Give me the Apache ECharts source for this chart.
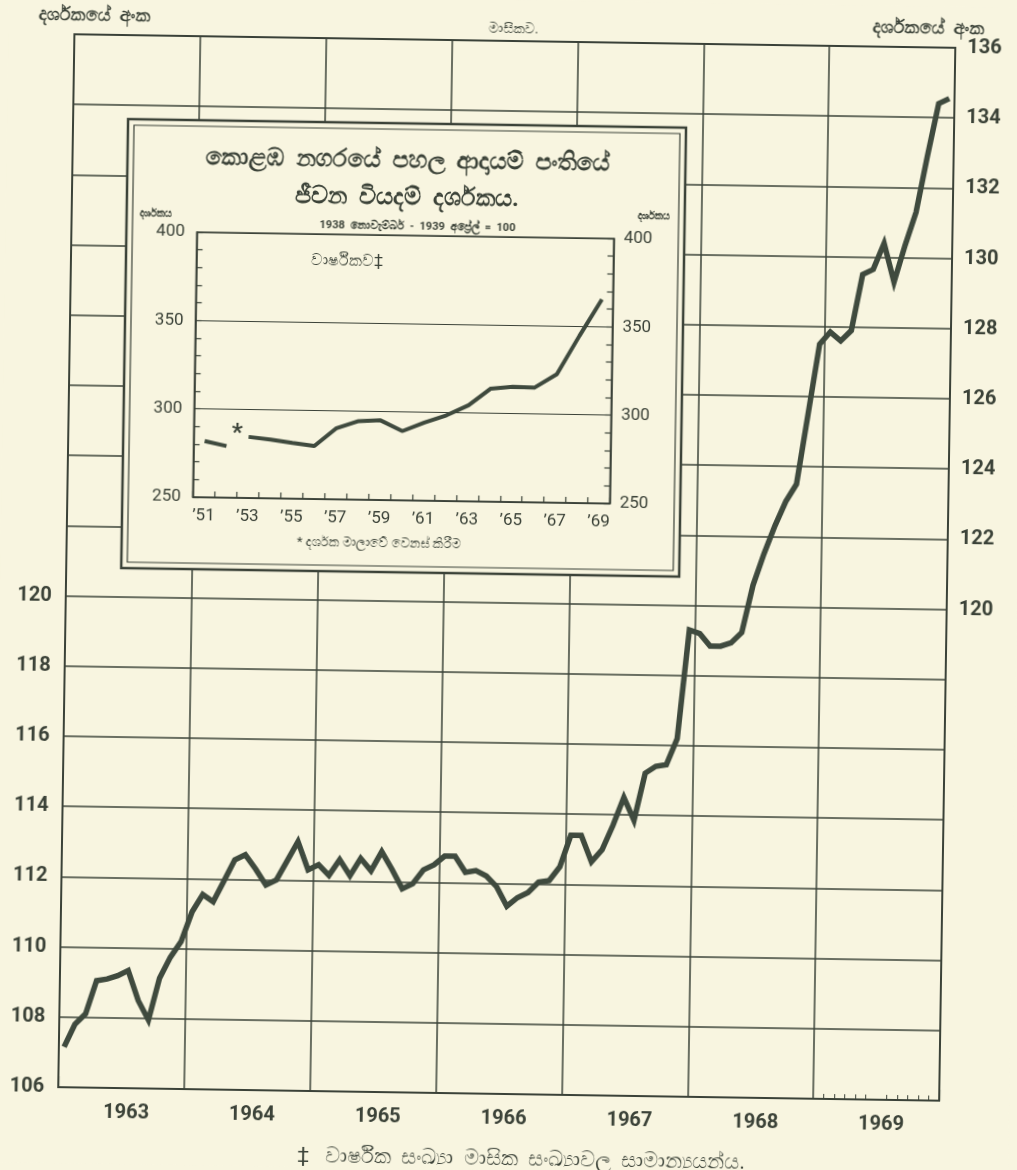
<!DOCTYPE html>
<html>
<head>
<meta charset="utf-8">
<title>කොළඹ නගරයේ ජීවන වියදම් දර්ශකය</title>
<script src="https://cdn.jsdelivr.net/npm/echarts@6.0.0/dist/echarts.min.js"></script>
<style>
  html,body{margin:0;padding:0;background:#f8f5e0;overflow:hidden;}
  /* the scanned page is slightly tilted */
  #cost-chart{width:1017px;height:1170px;transform:rotate(0.88deg);transform-origin:50% 50%;}
</style>
</head>
<body>
<div id="cost-chart"></div>
<script>
  // මාසික දර්ශකය, 1963 - 1969
  var years = ['1963', '1964', '1965', '1966', '1967', '1968', '1969'];
  var monthly1963 = [107.15, 107.8, 108.1, 109.05, 109.1, 109.2, 109.35, 108.5, 107.95, 109.15, 109.75, 110.2];
  var monthly1964 = [111.05, 111.55, 111.35, 111.95, 112.55, 112.7, 112.3, 111.85, 112.0, 112.55, 113.1, 112.3];
  var monthly1965 = [112.45, 112.15, 112.6, 112.15, 112.65, 112.3, 112.85, 112.35, 111.8, 111.95, 112.35, 112.5];
  var monthly1966 = [112.75, 112.75, 112.3, 112.35, 112.2, 111.9, 111.35, 111.6, 111.75, 112.05, 112.1, 112.5];
  var monthly1967 = [113.4, 113.4, 112.65, 113.0, 113.7, 114.5, 113.85, 115.2, 115.4, 115.45, 116.2, 119.3];
  var monthly1968 = [119.2, 118.85, 118.85, 118.95, 119.25, 120.6, 121.5, 122.3, 123.0, 123.5, 125.5, 127.5];
  var monthly1969 = [127.85, 127.6, 127.9, 129.5, 129.65, 130.4, 129.3, 130.35, 131.3, 132.9, 134.4, 134.55];
  var leftTicks = [106, 108, 110, 112, 114, 116, 118, 120];
  var rightTicks = [120, 122, 124, 126, 128, 130, 132, 134, 136];

  // වාර්ෂිකව (ඇතුළත ප්‍රස්තාරය), 1951 - 1969
  var insetYears = [1951, 1952, 1953, 1954, 1955, 1956, 1957, 1958, 1959, 1960,
                    1961, 1962, 1963, 1964, 1965, 1966, 1967, 1968, 1969];
  var annualOldSeries = [281.8, 279.2];   // 1951-52
  var annualNewSeries = [284.6, 283.3, 281.6, 280.0, 290.3, 294.5, 295.1, 289.2, 294.2,
                         298.5, 304.4, 314.0, 315.3, 315.0, 322.7, 344.6, 365.5];   // 1953-69

  var paper = '#f8f5e0';
  var ink = '#3b4238';
  var lineInk = '#3f4a3e';
  var font = 'Roboto, "Noto Sans", "DejaVu Sans", sans-serif';

  var months = [];
  var monthlyValues = [];
  var monthlyByYear = [monthly1963, monthly1964, monthly1965, monthly1966, monthly1967, monthly1968, monthly1969];
  years.forEach(function (y, k) {
    monthlyByYear[k].forEach(function (v, m) {
      months.push(y + '-' + (m + 1));
      monthlyValues.push(v);
    });
  });

  var oldData = insetYears.map(function (y, i) { return i < annualOldSeries.length ? annualOldSeries[i] : null; });
  var newData = insetYears.map(function (y, i) { return i >= 2 ? annualNewSeries[i - 2] : null; });

  var chart = echarts.init(document.getElementById('cost-chart'));

  var option = {
    backgroundColor: paper,
    animation: false,
    textStyle: {fontFamily: font, color: ink},
    grid: [
      {left: 66, right: 70, top: 41, bottom: 76, show: true, borderColor: ink, borderWidth: 2, backgroundColor: 'transparent'},
      {left: 191.5, top: 237, width: 417, height: 265, show: true, borderColor: ink, borderWidth: 1.5, backgroundColor: paper, z: 3}
    ],
    xAxis: [
      {
        gridIndex: 0, type: 'category', data: months, boundaryGap: true, position: 'bottom',
        axisLine: {show: true, lineStyle: {color: ink, width: 2}},
        axisTick: {show: false},
        axisLabel: {
          interval: function (i) { return i % 12 === 6; },
          formatter: function (v) { return v.slice(0, 4); },
          fontSize: 20, fontWeight: 'bold', color: ink, margin: 15
        },
        splitLine: {show: true, interval: function (i) { return i % 12 === 0; }, lineStyle: {color: ink, width: 1.5}}
      },
      {
        // 1969 මාසික සලකුණු
        gridIndex: 0, type: 'category', data: months, boundaryGap: true, position: 'bottom',
        axisLine: {show: false}, axisLabel: {show: false}, splitLine: {show: false},
        axisTick: {show: true, inside: true, length: 5, interval: function (i) { return i > 72 && i < 84 && i !== 78; }, lineStyle: {color: ink, width: 1}}
      },
      {
        gridIndex: 0, type: 'category', data: months, boundaryGap: true, position: 'bottom',
        axisLine: {show: false}, axisLabel: {show: false}, splitLine: {show: false},
        axisTick: {show: true, inside: true, length: 11, interval: function (i) { return i === 78; }, lineStyle: {color: ink, width: 1.2}}
      },
      {
        gridIndex: 1, type: 'category', data: insetYears, boundaryGap: true, position: 'bottom', z: 4,
        axisLine: {show: true, lineStyle: {color: ink, width: 1.5}},
        axisTick: {show: true, inside: true, length: 6, interval: 0, lineStyle: {color: ink, width: 1.2}},
        axisLabel: {
          interval: function (i) { return i % 2 === 0; },
          formatter: function (v) { return '\u2019' + String(v).slice(2); },
          fontSize: 17, color: ink, margin: 10
        },
        splitLine: {show: true, interval: function (i) { return i === 12; }, lineStyle: {color: ink, width: 1.2}}
      }
    ],
    yAxis: [
      {
        gridIndex: 0, type: 'value', min: 106, max: 136, interval: 2, position: 'left',
        axisLine: {show: true, lineStyle: {color: ink, width: 2}},
        axisTick: {show: false},
        axisLabel: {
          formatter: function (v) { return leftTicks.indexOf(v) >= 0 ? String(v) : ''; },
          fontSize: 20, fontWeight: 'bold', color: ink, margin: 14
        },
        splitLine: {show: true, lineStyle: {color: ink, width: 1.5}}
      },
      {
        gridIndex: 0, type: 'value', min: 106, max: 136, interval: 2, position: 'right',
        axisLine: {show: true, lineStyle: {color: ink, width: 2}},
        axisTick: {show: false},
        axisLabel: {
          formatter: function (v) { return rightTicks.indexOf(v) >= 0 ? String(v) : ''; },
          fontSize: 20, fontWeight: 'bold', color: ink, margin: 12
        },
        splitLine: {show: false}
      },
      {
        gridIndex: 1, type: 'value', min: 250, max: 400, interval: 50, position: 'left', z: 4,
        axisLine: {show: true, lineStyle: {color: ink, width: 1.5}},
        axisTick: {show: true, inside: true, length: 6, lineStyle: {color: ink, width: 1.2}},
        minorTick: {show: true, splitNumber: 5, length: 6, lineStyle: {color: ink, width: 1.2}},
        axisLabel: {fontSize: 17, color: ink, margin: 12},
        splitLine: {show: true, lineStyle: {color: ink, width: 1.2}}
      },
      {
        gridIndex: 1, type: 'value', min: 250, max: 400, interval: 50, position: 'right', z: 4,
        axisLine: {show: true, lineStyle: {color: ink, width: 1.5}},
        axisTick: {show: true, inside: true, length: 6, lineStyle: {color: ink, width: 1.2}},
        minorTick: {show: true, splitNumber: 5, length: 6, lineStyle: {color: ink, width: 1.2}},
        axisLabel: {fontSize: 17, color: ink, margin: 10},
        splitLine: {show: false}
      }
    ],
    series: [
      {
        name: 'මාසිකව', type: 'line', xAxisIndex: 0, yAxisIndex: 0, data: monthlyValues,
        symbol: 'none', z: 2, lineStyle: {color: lineInk, width: 5.5, join: 'miter'}
      },
      {
        name: 'වාර්ෂිකව 1951-52', type: 'line', xAxisIndex: 3, yAxisIndex: 2, data: oldData,
        symbol: 'none', z: 6, connectNulls: false, lineStyle: {color: lineInk, width: 4}
      },
      {
        name: 'වාර්ෂිකව 1953-69', type: 'line', xAxisIndex: 3, yAxisIndex: 2, data: newData,
        symbol: 'none', z: 6, connectNulls: false, lineStyle: {color: lineInk, width: 4}
      }
    ],
    graphic: [
      {type: 'rect', z: 1, shape: {x: 121, y: 125, width: 558, height: 449}, style: {fill: paper, stroke: ink, lineWidth: 2.5}},
      {type: 'rect', z: 1, shape: {x: 127, y: 131, width: 546, height: 437}, style: {fill: 'none', stroke: ink, lineWidth: 1.2}},
      {type: 'text', z: 7, x: 86, y: 22, style: {text: 'දර්ශකයේ  අංක', fill: ink, align: 'center', verticalAlign: 'middle', font: 'bold 18px ' + font}},
      {type: 'text', z: 7, x: 505, y: 29, style: {text: 'මාසිකව.', fill: ink, align: 'center', verticalAlign: 'middle', font: '14px ' + font}},
      {type: 'text', z: 7, x: 920, y: 22, style: {text: 'දර්ශකයේ  අංක', fill: ink, align: 'center', verticalAlign: 'middle', font: 'bold 18px ' + font}},
      {type: 'text', z: 7, x: 401, y: 163, style: {text: 'කොළඹ  නගරයේ  පහල  ආදායම්  පංතියේ', fill: ink, align: 'center', verticalAlign: 'middle', font: 'bold 24px ' + font}},
      {type: 'text', z: 7, x: 401, y: 200, style: {text: 'ජීවන  වියදම්  දර්ශකය.', fill: ink, align: 'center', verticalAlign: 'middle', font: 'bold 24px ' + font}},
      {type: 'text', z: 7, x: 412, y: 228, style: {text: '1938  නොවැම්බර්  -  1939  අප්‍රේල්  =  100', fill: ink, align: 'center', verticalAlign: 'middle', font: 'bold 11px ' + font}},
      {type: 'text', z: 7, x: 150, y: 219, style: {text: 'දර්ශකය', fill: ink, align: 'center', verticalAlign: 'middle', font: 'bold 10px ' + font}},
      {type: 'text', z: 7, x: 648, y: 214, style: {text: 'දර්ශකය', fill: ink, align: 'center', verticalAlign: 'middle', font: 'bold 10px ' + font}},
      {type: 'text', z: 7, x: 342, y: 264, style: {text: 'වාර්ෂිකව‡', fill: ink, align: 'center', verticalAlign: 'middle', font: '16px ' + font}},
      {type: 'text', z: 7, x: 235, y: 438, style: {text: '*', fill: ink, align: 'center', verticalAlign: 'middle', font: 'bold 24px ' + font}},
      {type: 'text', z: 7, x: 378, y: 546, style: {text: '* දර්ශක මාලාවේ වෙනස් කිරීම', fill: ink, align: 'center', verticalAlign: 'middle', font: '13px ' + font}},
      {type: 'text', z: 7, x: 530, y: 1160, style: {text: '‡   වාර්ෂික  සංඛ්‍යා  මාසික  සංඛ්‍යාවල  සාමාන්‍යයන්ය.', fill: ink, align: 'center', verticalAlign: 'middle', font: '21px ' + font}}
    ]
  };

  option && chart.setOption(option);
</script>
</body>
</html>
